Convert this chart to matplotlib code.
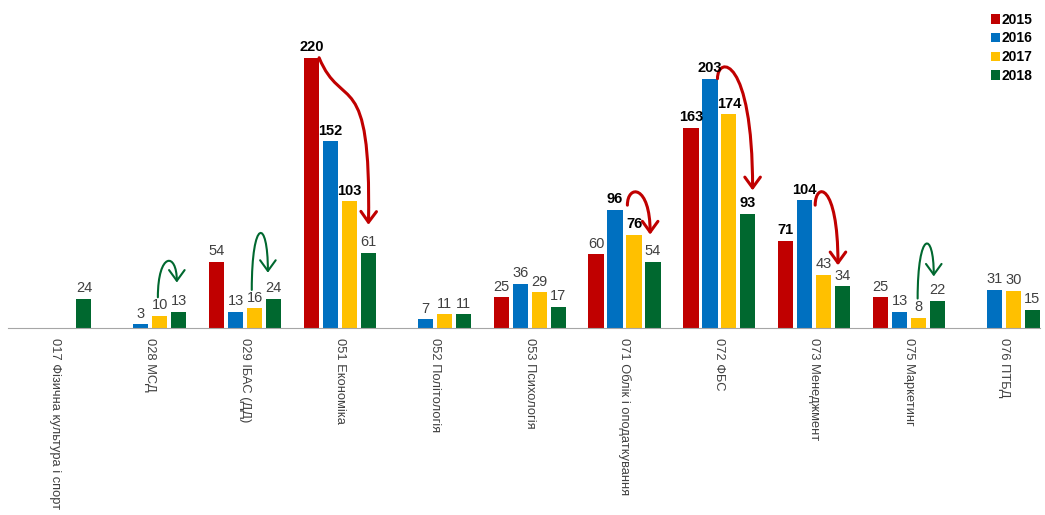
import numpy as np
import matplotlib.pyplot as plt
from matplotlib.path import Path
from matplotlib.patches import FancyArrowPatch

plt.rcParams['font.family'] = ['Liberation Sans', 'DejaVu Sans']

categories = ['017 Фізична культура і спорт', '028 МСД', '029 ІБАС (ДД)', '051 Економіка',
              '052 Політологія', '053 Психологія', '071 Облік і оподаткування', '072 ФБС',
              '073 Менеджмент', '075 Маркетинг', '076 ПТБД']
years = ['2015', '2016', '2017', '2018']
v2015 = [np.nan, np.nan, 54, 220, np.nan, 25, 60, 163, 71, 25, np.nan]
v2016 = [np.nan, 3, 13, 152, 7, 36, 96, 203, 104, 13, 31]
v2017 = [np.nan, 10, 16, 103, 11, 29, 76, 174, 43, 8, 30]
v2018 = [24, 13, 24, 61, 11, 17, 54, 93, 34, 22, 15]
series = [v2015, v2016, v2017, v2018]
colors = ['#C00000', '#0070C0', '#FFC000', '#00682F']

# labels drawn in bold (series index, category index)
bold_labels = [(0, 3), (1, 3), (2, 3), (1, 6), (2, 6),
               (0, 7), (1, 7), (2, 7), (3, 7), (0, 8), (1, 8)]

# arrows: (category, x start offset, x end offset, y start, control y, y end, colour)
arrows = [
    (1, 0.08, 0.28, 25, 62, 37, '#00682F'),
    (2, 0.07, 0.24, 31, 90, 45, '#00682F'),
    (9, 0.09, 0.26, 24, 80, 42, '#00682F'),
    (6, 0.03, 0.27, 100, 117, 76, '#C00000'),
    (8, 0.01, 0.25, 100, 119, 51, '#C00000'),
    (7, -0.02, 0.35, 203, 222, 112, '#C00000'),
]

fig = plt.figure(figsize=(10.45, 5.15), dpi=100)
ax = fig.add_axes([8 / 1045, 187 / 515, 1032 / 1045, 328 / 515])

x = np.arange(len(categories))
step = 0.2
width = 0.16
for i, vals in enumerate(series):
    pos = x + (i - 1.5) * step
    vals = np.array(vals, dtype=float)
    ax.bar(pos, vals, width=width, color=colors[i], label=years[i])
    for j, v in enumerate(vals):
        if np.isnan(v):
            continue
        if (i, j) in bold_labels:
            ax.text(pos[j], v + 3, '%d' % v, ha='center', va='bottom', fontsize=10.5,
                    fontweight='bold', color='black')
        else:
            ax.text(pos[j], v + 3, '%d' % v, ha='center', va='bottom', fontsize=10.5,
                    color='#404040')

# curved arrows
for c, dx0, dx1, y0, yc, y1, col in arrows:
    x0, x1 = c + dx0, c + dx1
    p = Path([(x0, y0), (x0, yc), (x1, yc), (x1, y1)],
             [Path.MOVETO, Path.CURVE4, Path.CURVE4, Path.CURVE4])
    lw = 2.2 if col == '#C00000' else 1.5
    ax.add_patch(FancyArrowPatch(path=p, arrowstyle='->,head_length=0.55,head_width=0.4',
                                 mutation_scale=14, color=col, lw=lw))

# the S-shaped arrow over 051
p = Path([(3 - 0.22, 220), (3.02, 175), (3.33, 215), (3.3, 84)],
         [Path.MOVETO, Path.CURVE4, Path.CURVE4, Path.CURVE4])
ax.add_patch(FancyArrowPatch(path=p, arrowstyle='->,head_length=0.55,head_width=0.4',
                             mutation_scale=14, color='#C00000', lw=2.2))

ax.set_xlim(-0.5, 10.38)
ax.set_ylim(0, 267)
ax.set_xticks(x)
ax.set_xticklabels(categories, rotation=270, fontsize=9.3, color='#404040', va='top', ha='center')
ax.tick_params(axis='x', length=0, pad=7)
ax.set_yticks([])
for s in ['top', 'right', 'left']:
    ax.spines[s].set_visible(False)
ax.spines['bottom'].set_color('#A6A6A6')

leg = fig.legend(loc='upper right', bbox_to_anchor=(1.0, 1.0), frameon=False,
                 handlelength=0.7, handleheight=0.7, handletextpad=0.1, labelspacing=0.35,
                 prop={'weight': 'bold', 'size': 10})

fig.savefig('out.png', dpi=100)
